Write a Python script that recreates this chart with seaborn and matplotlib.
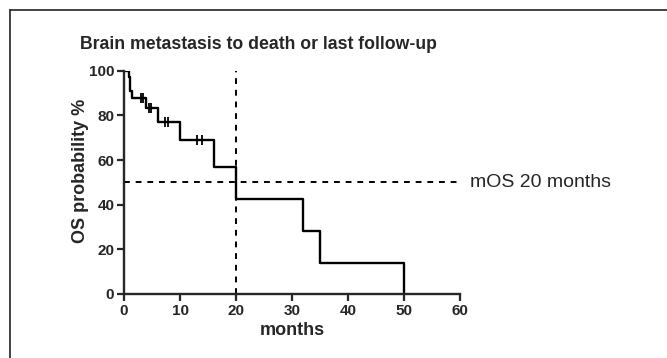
import matplotlib
matplotlib.use("Agg")
import matplotlib.pyplot as plt
from matplotlib.lines import Line2D
import seaborn as sns

# Kaplan-Meier step values
months = [0, 0.8, 1.1, 1.5, 4.0, 6.1, 10.0, 16.0, 20.0, 32.0, 35.0, 50.0]
os_prob = [100, 97.4, 91.1, 87.7, 83.2, 77.2, 68.8, 57.0, 42.5, 28.4, 14.0, 0]

# censored patients (tick marks on the curve)
cens_months = [3.0, 3.45, 4.5, 4.8, 7.3, 7.9, 13.1, 13.9]
cens_prob = [87.7, 87.7, 83.2, 83.2, 77.2, 77.2, 68.8, 68.8]

median_os = 20
x_ticks = [0, 10, 20, 30, 40, 50, 60]
y_ticks = [0, 20, 40, 60, 80, 100]

sns.set_style("ticks")
plt.rcParams["font.family"] = ["Liberation Sans", "DejaVu Sans"]

fig = plt.figure(figsize=(6.67, 3.58), dpi=100)
ax = fig.add_axes([0.186, 0.179, 0.504, 0.623])

sns.lineplot(x=months, y=os_prob, drawstyle="steps-post", estimator=None,
             color="black", linewidth=1.7, ax=ax)
sns.scatterplot(x=cens_months, y=cens_prob, marker="|", s=55, color="black",
                linewidth=1.3, ax=ax, zorder=3)

# median lines
ax.plot([0, 60], [50, 50], color="black", linestyle=(0, (3, 3)), linewidth=1.4)
ax.plot([median_os, median_os], [0, 100], color="black", linestyle=(0, (3, 3)), linewidth=1.4)
ax.text(61.8, 50, "mOS 20 months", fontsize=14, va="center", ha="left", clip_on=False)

ax.set_xlim(0, 60)
ax.set_ylim(0, 100)
ax.set_xticks(x_ticks)
ax.set_yticks(y_ticks)
ax.set_xticklabels(x_ticks, fontweight="bold", fontsize=11)
ax.set_yticklabels(y_ticks, fontweight="bold", fontsize=11)
ax.tick_params(direction="out", length=5, width=1.6, pad=2)
for side in ["left", "bottom"]:
    ax.spines[side].set_linewidth(1.7)
sns.despine(ax=ax)

ax.set_xlabel("months", fontweight="bold", fontsize=13, labelpad=3)
ax.set_ylabel("OS probability %", fontweight="bold", fontsize=13, labelpad=0)
ax.yaxis.label.set_y(0.55)
fig.text(0.12, 0.875, "Brain metastasis to death or last follow-up",
         fontweight="bold", fontsize=12.7, ha="left", va="center")

# frame around the figure (top and left edges visible)
fig.add_artist(Line2D([0.015, 1.0], [0.972, 0.972], color="#222222", linewidth=1.2))
fig.add_artist(Line2D([0.015, 0.015], [0.0, 0.972], color="#222222", linewidth=1.2))

fig.savefig("out.png", dpi=100)
